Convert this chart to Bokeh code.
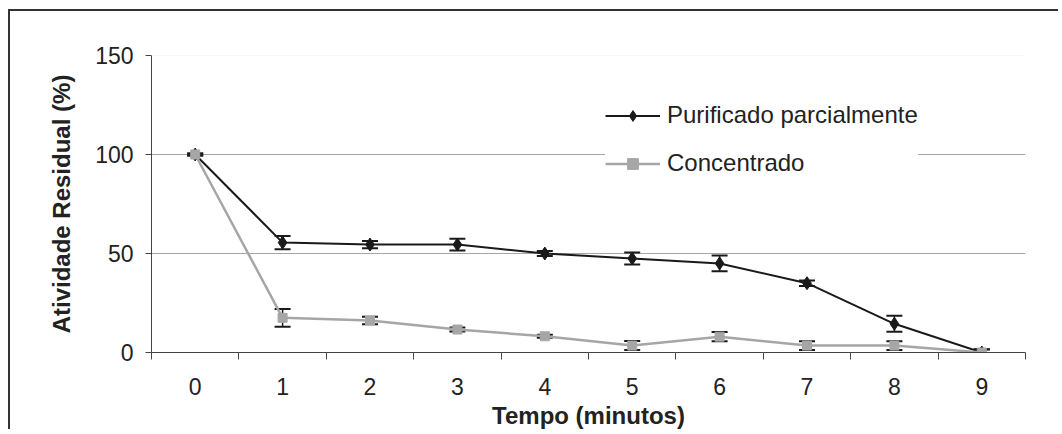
from bokeh.plotting import figure
from bokeh.models import (ColumnDataSource, FixedTicker, Whisker, TeeHead, Legend,
                          LegendItem, Span)
from bokeh.embed import file_html
from bokeh.resources import INLINE

# ---- data ----
tempo = [0, 1, 2, 3, 4, 5, 6, 7, 8, 9]
tick_labels = ["0", "1", "2", "3", "4", "5", "6", "7", "8", "9"]
purificado = [100, 55.5, 54.5, 54.5, 50, 47.5, 45, 35, 14.5, 0]
purificado_err = [0.5, 3.3, 1.8, 3.0, 1.2, 3.0, 4.0, 1.4, 4.0, 1.6]
concentrado = [100, 17.5, 16.2, 11.6, 8.2, 3.5, 8.0, 3.5, 3.5, 0]
concentrado_err = [0.5, 4.5, 1.9, 1.0, 0.8, 2.3, 2.3, 2.2, 2.2, 1.5]
y_ticks = [0, 50, 100, 150]

FONT = "Liberation Sans"
TXT = "#222222"
AX = "#444444"

src_p = ColumnDataSource(dict(x=tempo, y=purificado,
                              lo=[v - e for v, e in zip(purificado, purificado_err)],
                              hi=[v + e for v, e in zip(purificado, purificado_err)]))
src_c = ColumnDataSource(dict(x=tempo, y=concentrado,
                              lo=[v - e for v, e in zip(concentrado, concentrado_err)],
                              hi=[v + e for v, e in zip(concentrado, concentrado_err)]))

p = figure(width=1050, height=420, output_backend="svg", toolbar_location=None,
           x_range=(-0.5, 9.5), y_range=(0, 150),
           min_border_left=141, min_border_top=44, min_border_right=35,
           min_border_bottom=78)
p.margin = (9, 0, 0, 8)
p.styles = {"border-left": "2px solid #333333", "border-top": "2px solid #333333"}
p.outline_line_color = None
p.background_fill_color = "white"
p.border_fill_color = "white"

# grid
p.xgrid.visible = False
p.ygrid.ticker = FixedTicker(ticks=[50, 100])
p.ygrid.grid_line_color = "#a6a6a6"
p.ygrid.grid_line_width = 1
p.add_layout(Span(location=150, dimension="width", line_color="#f0f0f0", line_width=1))

# x axis (categories, ticks between)
p.xaxis.ticker = FixedTicker(ticks=tempo,
                             minor_ticks=[t - 0.5 for t in tempo] + [tempo[-1] + 0.5])
p.xaxis.major_label_overrides = {t: l for t, l in zip(tempo, tick_labels)}
p.xaxis.major_tick_out = 0
p.xaxis.major_tick_in = 0
p.xaxis.minor_tick_out = 7
p.xaxis.minor_tick_in = 0
p.xaxis.minor_tick_line_color = AX
p.xaxis.axis_line_color = AX
p.xaxis.major_label_standoff = 18
p.xaxis.axis_label = "Tempo (minutos)"
p.xaxis.axis_label_standoff = 4

# y axis
p.yaxis.ticker = FixedTicker(ticks=y_ticks)
p.yaxis.minor_tick_line_color = None
p.yaxis.major_tick_out = 6
p.yaxis.major_tick_in = 0
p.yaxis.major_tick_line_color = AX
p.yaxis.axis_line_color = AX
p.yaxis.major_label_standoff = 12
p.yaxis.axis_label = "Atividade Residual (%)"
p.yaxis.axis_label_standoff = 17

for ax in (p.xaxis[0], p.yaxis[0]):
    ax.major_label_text_font = FONT
    ax.major_label_text_font_size = "23px"
    ax.major_label_text_color = TXT
    ax.axis_label_text_font = FONT
    ax.axis_label_text_font_size = "24px"
    ax.axis_label_text_font_style = "bold"
    ax.axis_label_text_color = TXT

# lines
lp = p.line("x", "y", source=src_p, line_color="#1a1a1a", line_width=2)
lc = p.line("x", "y", source=src_c, line_color="#a6a6a6", line_width=2.5)

# error bars
for src in (src_p, src_c):
    w = Whisker(source=src, base="x", lower="lo", upper="hi",
                line_color="#1a1a1a", line_width=1.5,
                lower_head=TeeHead(size=16, line_color="#1a1a1a", line_width=2),
                upper_head=TeeHead(size=16, line_color="#1a1a1a", line_width=2))
    p.add_layout(w)

mp = p.scatter("x", "y", source=src_p, marker="diamond", size=13,
               fill_color="#1a1a1a", line_color="#1a1a1a")
mc = p.scatter("x", "y", source=src_c, marker="square", size=9,
               fill_color="#a6a6a6", line_color="#a6a6a6")

legend = Legend(items=[LegendItem(label="Purificado parcialmente", renderers=[lp, mp]),
                       LegendItem(label="Concentrado", renderers=[lc, mc])],
                location=(454, 175))
legend.background_fill_color = "white"
legend.background_fill_alpha = 1
legend.border_line_color = None
legend.padding = 10
legend.spacing = 20
legend.glyph_width = 55
legend.glyph_height = 27
legend.label_height = 27
legend.label_standoff = 7
legend.label_text_font = FONT
legend.label_text_font_size = "24px"
legend.label_text_color = TXT
legend.margin = 0
p.add_layout(legend)

open("out.html", "w").write(file_html(p, INLINE))
